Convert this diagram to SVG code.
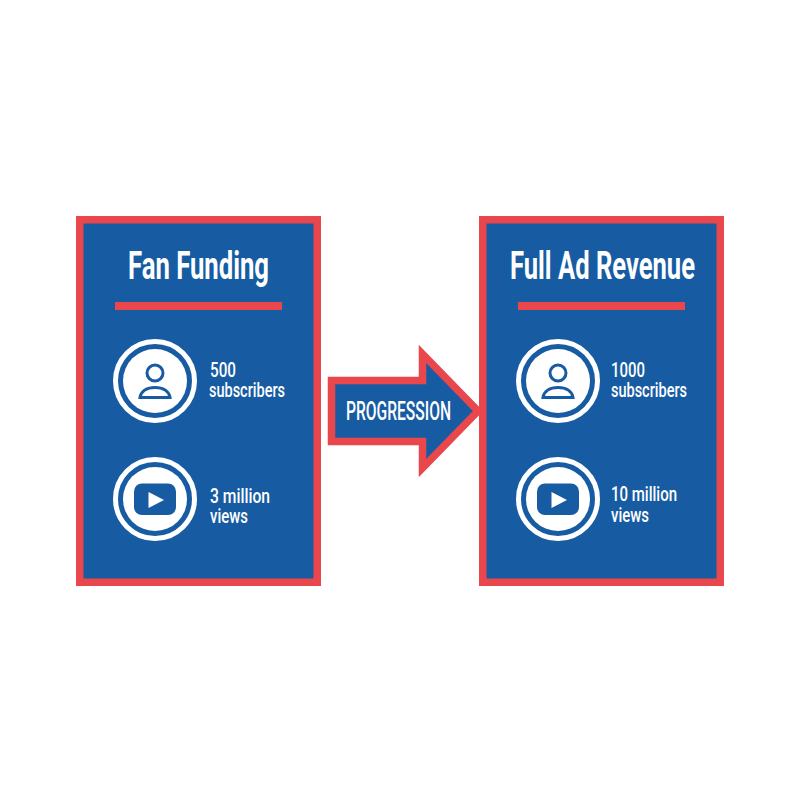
<svg xmlns="http://www.w3.org/2000/svg" xmlns:xlink="http://www.w3.org/1999/xlink" width="800" height="800" viewBox="0 0 800 800">
<style>
.card{fill:#175ca3;stroke:#e9474b;stroke-width:7.5}
.rule{fill:#e9474b}
text{font-family:"Roboto","Liberation Sans",sans-serif;fill:#fff}
.title{font-size:38px;font-weight:700}
.label{font-size:21px;font-weight:500}
.prog{font-size:25px;font-weight:500}
.ring{fill:none;stroke:#fff;stroke-width:5}
.disc{fill:#fff}
.ico{fill:none;stroke:#175ca3;stroke-width:3}
.solid{fill:#175ca3}
.tri{fill:#fff}
</style>
<defs>
<g id="person">
<circle class="ring" r="39.500"/><circle class="disc" r="32"/>
<circle class="ico" cy="-8" r="8"/>
<path class="ico" d="M-15 16.500C-14 10-8 6.500 0 6.500S14 10 15 16.500Z"/>
</g>
<g id="play">
<circle class="ring" r="39.500"/><circle class="disc" r="32"/>
<rect class="solid" x="-21" y="-15.500" width="42" height="31.500" rx="8"/>
<path class="tri" d="M-6.500-7L9 1L-6.500 9Z"/>
</g>
</defs>
<rect width="800" height="800" fill="#fff"/>
<g id="connectors">
<g id="progression-arrow">
<path d="M331.500 380.500H422.500V354L478 411L422.500 468V441.500H331.500Z" fill="#175ca3" stroke="#e9474b" stroke-width="7.500" stroke-miterlimit="10"/>
<text class="prog" x="346" y="419.500" textLength="105" lengthAdjust="spacingAndGlyphs">PROGRESSION</text>
</g>
</g>
<g id="fan-funding">
<rect class="card" x="79.750" y="219.750" width="237.500" height="362.500"/>
<text class="title" x="128" y="279" textLength="141" lengthAdjust="spacingAndGlyphs">Fan Funding</text>
<rect class="rule" x="115" y="302" width="167" height="8"/>
<use xlink:href="#person" href="#person" x="155" y="381"/>
<text class="label" x="210" y="377" textLength="26" lengthAdjust="spacingAndGlyphs">500</text>
<text class="label" x="209" y="397" textLength="76" lengthAdjust="spacingAndGlyphs">subscribers</text>
<use xlink:href="#play" href="#play" x="155" y="499"/>
<text class="label" x="210" y="503" textLength="60" lengthAdjust="spacingAndGlyphs">3 million</text>
<text class="label" x="210" y="523" textLength="38" lengthAdjust="spacingAndGlyphs">views</text>
</g>
<g id="full-ad-revenue">
<rect class="card" x="482.750" y="219.750" width="237.500" height="362.500"/>
<text class="title" x="510" y="279" textLength="185" lengthAdjust="spacingAndGlyphs">Full Ad Revenue</text>
<rect class="rule" x="518" y="302" width="167" height="8"/>
<use xlink:href="#person" href="#person" x="558" y="381"/>
<text class="label" x="611" y="377" textLength="34" lengthAdjust="spacingAndGlyphs">1000</text>
<text class="label" x="611" y="397" textLength="76" lengthAdjust="spacingAndGlyphs">subscribers</text>
<use xlink:href="#play" href="#play" x="558" y="499"/>
<text class="label" x="611" y="501" textLength="66" lengthAdjust="spacingAndGlyphs">10 million</text>
<text class="label" x="611" y="522" textLength="38" lengthAdjust="spacingAndGlyphs">views</text>
</g>
</svg>
